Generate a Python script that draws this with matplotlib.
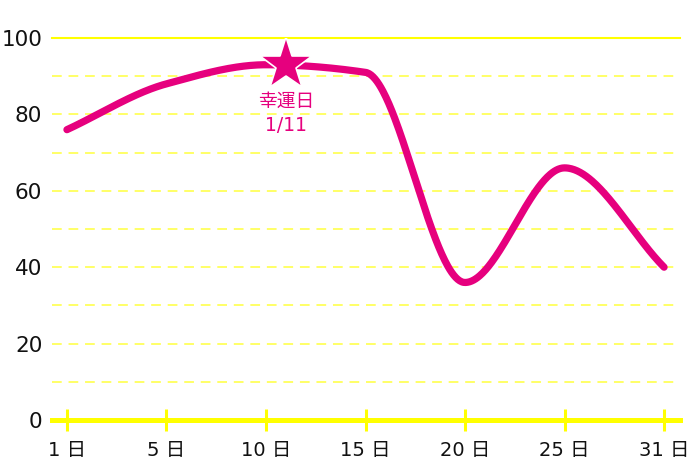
import numpy as np
import matplotlib
matplotlib.use("Agg")
import matplotlib.pyplot as plt

plt.rcParams['font.family'] = ['DejaVu Sans', 'Noto Sans CJK JP']

# data
days = [1, 5, 10, 15, 20, 25, 31]
day_labels = ["1 日", "5 日", "10 日", "15 日", "20 日", "25 日", "31 日"]
values = [76, 88, 93, 91, 36, 66, 40]
lucky_day = 11
lucky_label = "幸運日\n1/11"

PINK = "#e6007e"
YELLOW = "#ffff00"
LIGHT_YELLOW = "#ffff66"


def pchip(x, y, xs):
    """Monotone cubic (Fritsch-Carlson) curve through the points."""
    x = np.asarray(x, float)
    y = np.asarray(y, float)
    h = np.diff(x)
    d = np.diff(y) / h
    n = len(x)
    m = np.zeros(n)
    for k in range(1, n - 1):
        if d[k - 1] * d[k] <= 0:
            m[k] = 0
        else:
            w1 = 2 * h[k] + h[k - 1]
            w2 = h[k] + 2 * h[k - 1]
            m[k] = (w1 + w2) / (w1 / d[k - 1] + w2 / d[k])
    m[0] = d[0]
    m[-1] = d[-1]
    out = np.empty_like(xs)
    for i, xv in enumerate(xs):
        k = min(max(np.searchsorted(x, xv) - 1, 0), n - 2)
        t = (xv - x[k]) / h[k]
        h00 = 2 * t**3 - 3 * t**2 + 1
        h10 = t**3 - 2 * t**2 + t
        h01 = -2 * t**3 + 3 * t**2
        h11 = t**3 - t**2
        out[i] = h00 * y[k] + h10 * h[k] * m[k] + h01 * y[k + 1] + h11 * h[k] * m[k + 1]
    return out


idx = np.arange(len(days))
xs = np.linspace(0, len(days) - 1, 600)
ys = pchip(idx, values, xs)

fig = plt.figure(figsize=(7, 4.67), dpi=100)
ax = fig.add_axes([52 / 700, 47 / 467, 628 / 700, 382 / 467])

# grid
for v in range(10, 100, 10):
    ax.axhline(v, color=LIGHT_YELLOW, lw=1.4, ls=(0, (5, 3.5)), zorder=1)
ax.axhline(100, color=YELLOW, lw=1.5, zorder=1, clip_on=False)

ax.plot(xs, ys, color=PINK, lw=5.2, solid_capstyle='round', zorder=3, clip_on=False)

# lucky day star
lx = np.interp(lucky_day, days, idx)
ly = pchip(idx, values, np.array([lx]))[0]
ax.plot([lx], [ly], marker='*', ms=40, color=PINK, mec='white', mew=1.2, zorder=4)
ax.annotate(lucky_label, (lx, ly), xytext=(0, -19), textcoords='offset points',
            ha='center', va='top', color=PINK, fontsize=13.5, linespacing=1.35)

ax.set_xlim(-0.15, 6.16)
ax.set_ylim(0, 100)
ax.set_xticks(idx)
ax.set_xticklabels(day_labels)
ax.set_yticks(range(0, 101, 20))

for s in ['top', 'right', 'left']:
    ax.spines[s].set_visible(False)
ax.spines['bottom'].set_color(YELLOW)
ax.spines['bottom'].set_linewidth(3.6)
ax.spines['bottom'].set_zorder(2)

ax.tick_params(axis='x', direction='inout', length=16.5, width=2.2, color=YELLOW,
               labelsize=14, pad=7, labelcolor='#111111')
ax.tick_params(axis='y', length=0, labelsize=15.5, pad=7, labelcolor='#111111')

fig.savefig("out.png", dpi=100)
